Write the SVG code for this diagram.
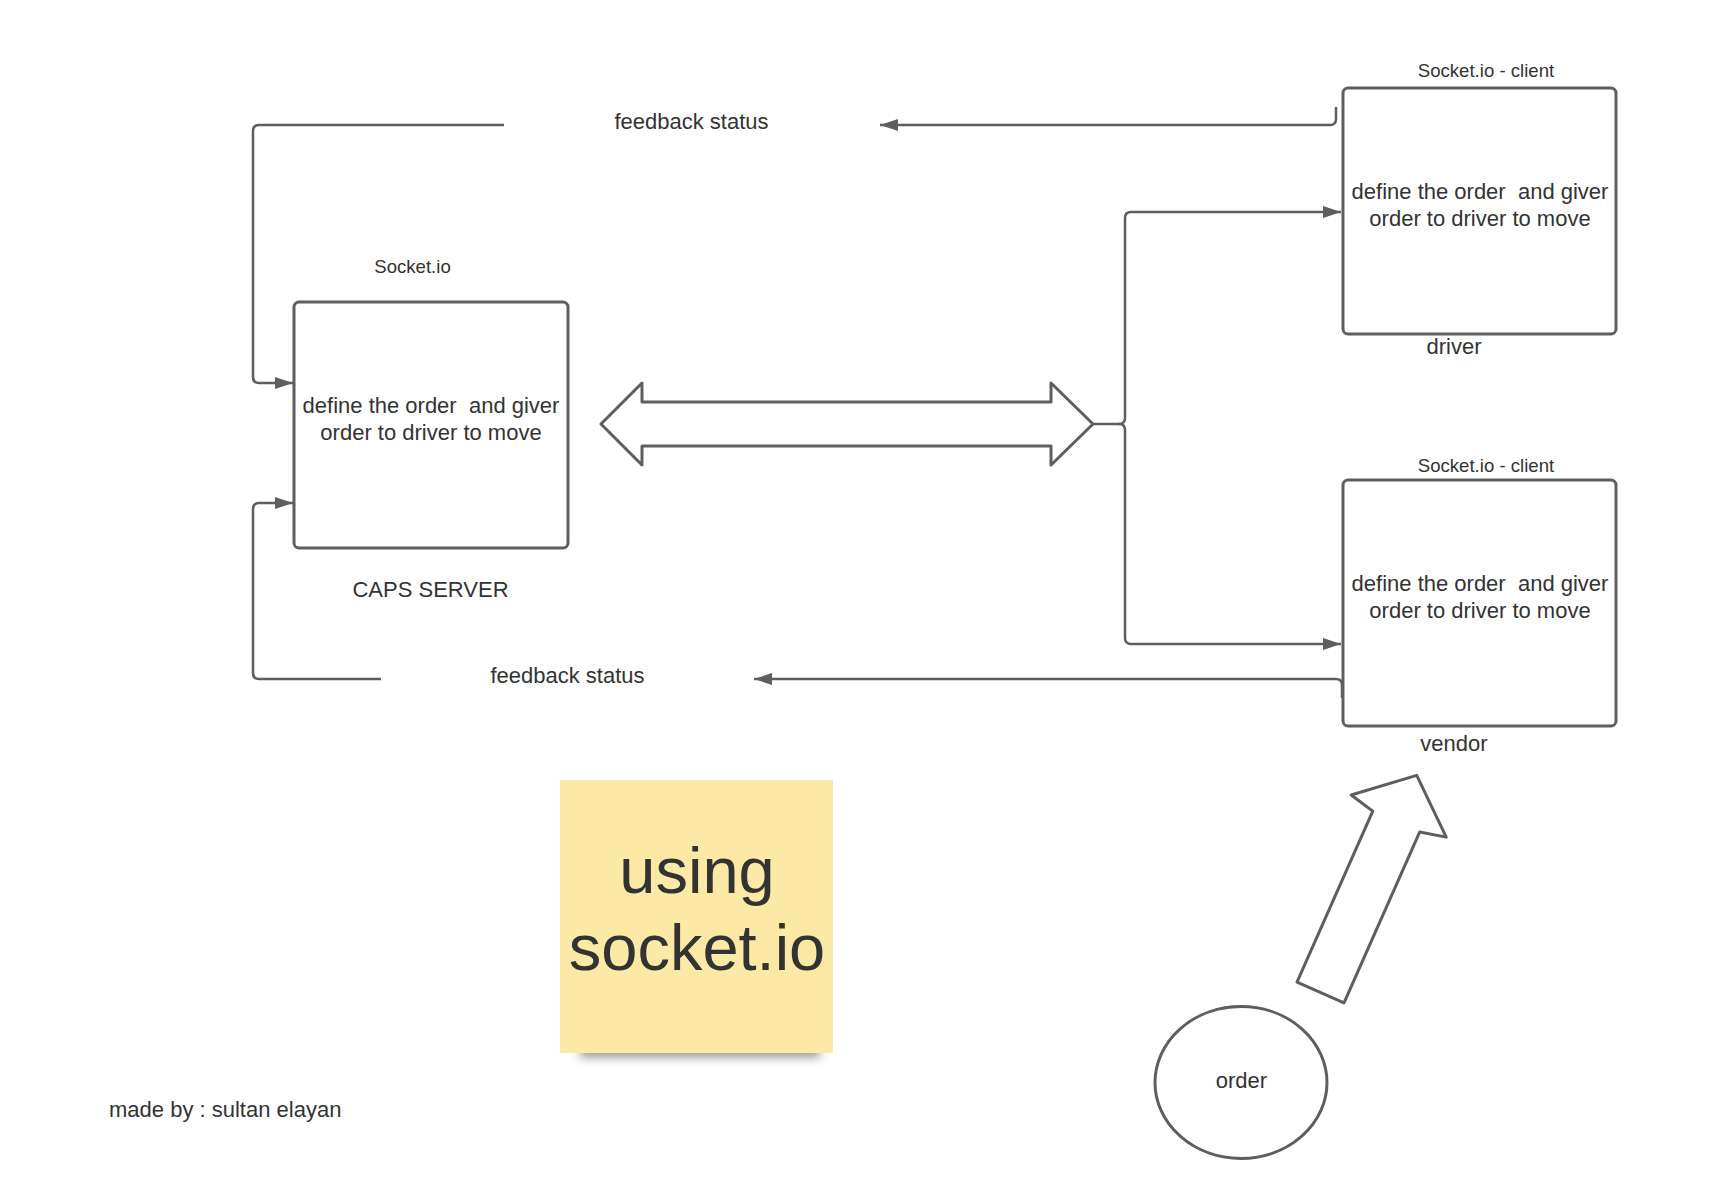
<svg xmlns="http://www.w3.org/2000/svg" width="1712" height="1200" viewBox="0 0 1712 1200">
<style>
.box{fill:#fff;stroke:#5e5e5e;stroke-width:3}
.shape{fill:#fff;stroke:#5e5e5e;stroke-width:3;stroke-linejoin:round}
.con{fill:none;stroke:#5e5e5e;stroke-width:2.5}
.t{font-family:"Liberation Sans",Arial,sans-serif;fill:#333;font-size:22px;text-anchor:middle;white-space:pre}
.s{font-size:18.6px}
</style>
<defs>
<marker id="ah" markerUnits="userSpaceOnUse" markerWidth="20" markerHeight="14" refX="18" refY="7" orient="auto">
<path d="M0,1 L18,7 L0,13 z" fill="#5e5e5e"/>
</marker>
<filter id="blur" x="-20%" y="-200%" width="140%" height="500%">
<feGaussianBlur stdDeviation="5"/>
</filter>
</defs>
<rect width="1712" height="1200" fill="#fff"/>

<g id="connectors">
<path class="con" d="M1336 107 V119 q0 6 -6 6 H880" marker-end="url(#ah)"/>
<path class="con" d="M504 125 H259 q-6 0 -6 6 V377 q0 6 6 6 H293" marker-end="url(#ah)"/>
<path class="con" d="M1342 698 V685 q0 -6 -6 -6 H754" marker-end="url(#ah)"/>
<path class="con" d="M381 679 H259 q-6 0 -6 -6 V509 q0 -6 6 -6 H293" marker-end="url(#ah)"/>
<path class="con" d="M1093 424 H1119 q6 0 6 -6 V218 q0 -6 6 -6 H1341" marker-end="url(#ah)"/>
<path class="con" d="M1119 424 q6 0 6 6 V638 q0 6 6 6 H1341" marker-end="url(#ah)"/>
</g>

<g id="feedback-top">
<text class="t" x="691.5" y="129">feedback status</text>
</g>
<g id="feedback-bottom">
<text class="t" x="567.5" y="683">feedback status</text>
</g>

<g id="caps-server">
<text class="t s" x="412.5" y="273">Socket.io</text>
<rect class="box" x="294" y="302" width="274" height="246" rx="5"/>
<text class="t" x="431" y="413" xml:space="preserve">define the order  and giver</text>
<text class="t" x="431" y="440">order to driver to move</text>
<text class="t" x="430.5" y="597">CAPS SERVER</text>
</g>

<g id="double-arrow">
<polygon class="shape" points="601,424 642,383 642,402 1051,402 1051,383 1093,424 1051,465 1051,446 642,446 642,465"/>
</g>

<g id="driver">
<text class="t s" x="1486" y="77">Socket.io - client</text>
<rect class="box" x="1343" y="88" width="273" height="246" rx="5"/>
<text class="t" x="1480" y="199" xml:space="preserve">define the order  and giver</text>
<text class="t" x="1480" y="226">order to driver to move</text>
<text class="t" x="1454" y="354">driver</text>
</g>

<g id="vendor">
<text class="t s" x="1486" y="472">Socket.io - client</text>
<rect class="box" x="1343" y="480" width="273" height="246" rx="5"/>
<text class="t" x="1480" y="591" xml:space="preserve">define the order  and giver</text>
<text class="t" x="1480" y="618">order to driver to move</text>
<text class="t" x="1454" y="751">vendor</text>
</g>

<g id="sticky-note">
<rect x="580" y="1042" width="240" height="16" fill="#a0a0a0" filter="url(#blur)"/>
<rect x="560" y="780" width="273" height="273" fill="#fde9a6"/>
<text class="t" x="697" y="893" style="font-size:65px">using</text>
<text class="t" x="697" y="970" style="font-size:65px">socket.io</text>
</g>

<g id="order-arrow">
<polygon class="shape" transform="translate(1320.5 992.5) rotate(23.9)" points="-25.7,0 25.7,0 25.7,-187 52,-193 0,-237.5 -52,-193 -25.7,-187"/>
</g>

<g id="order">
<ellipse class="shape" cx="1241" cy="1082.5" rx="86" ry="76"/>
<text class="t" x="1241.5" y="1088">order</text>
</g>

<g id="credit">
<text class="t" x="109" y="1117" style="text-anchor:start">made by : sultan elayan</text>
</g>
</svg>
